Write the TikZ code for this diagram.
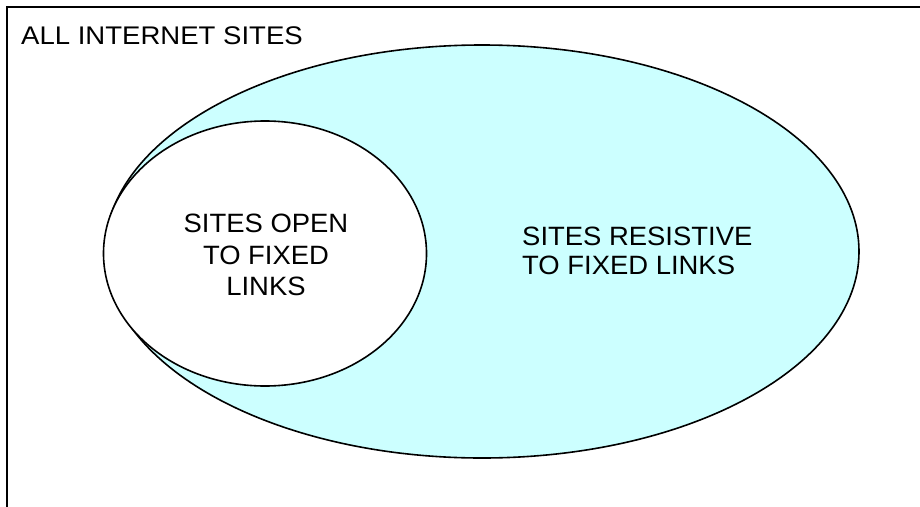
\documentclass[tikz,border=0pt]{standalone}
\usepackage{fontspec}
\setmainfont{Liberation Sans}
\newfontfamily\titlefont[FakeStretch=1.08]{Liberation Sans}
\newfontfamily\labelfont[FakeStretch=1.035]{Liberation Sans}
\usetikzlibrary{shapes.geometric}
\definecolor{paleCyan}{HTML}{CCFFFF}
\tikzset{
  set/.style={ellipse, draw=black, line width=1.6pt, inner sep=0pt},
  labeltext/.style={inner sep=0pt},
}
\begin{document}
\begin{tikzpicture}[x=1pt, y=-1pt]
  \useasboundingbox (0,0) rectangle (920,506);
  % universe frame (only its top and left edges fall inside the page)
  \draw[line width=2.2pt] (7,520) -- (7,7) -- (930,7);
  \node[anchor=base west, font=\titlefont\fontsize{25.5}{28}\selectfont, inner sep=0pt]
    (universe) at (21,44) {ALL INTERNET SITES};
  % all sites, and the subset open to fixed links
  \node[set, fill=paleCyan, minimum width=754pt, minimum height=413pt]
    (all) at (482,251.5) {};
  \node[set, fill=white, minimum width=323pt, minimum height=265pt]
    (open) at (265,253.5) {};
  \node[labeltext, align=center, font=\labelfont\fontsize{26.5}{31.5}\selectfont]
    (openlabel) at (266,255) {SITES OPEN\\TO FIXED\\LINKS};
  \node[labeltext, align=left, anchor=west, font=\labelfont\fontsize{26.5}{29}\selectfont]
    (reslabel) at (522,251) {SITES RESISTIVE\\TO FIXED LINKS};
\end{tikzpicture}
\end{document}
